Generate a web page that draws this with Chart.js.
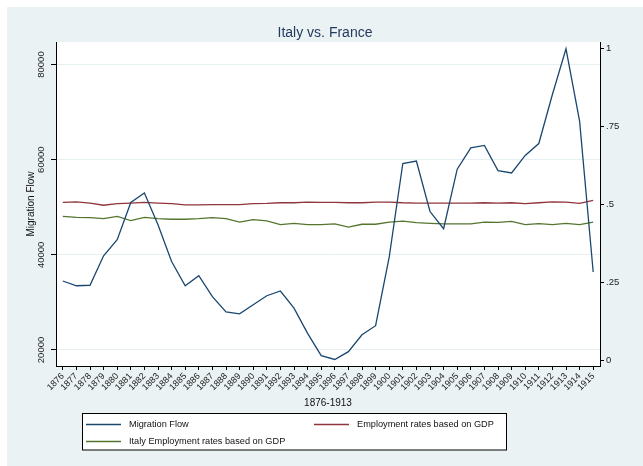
<!DOCTYPE html>
<html lang="en">
<head>
    <meta charset="UTF-8">
    <title>Italy vs. France</title>
    <script src="https://cdn.jsdelivr.net/npm/chart.js"></script>
    <style>
        html, body { margin: 0; padding: 0; background: #fff; }
        canvas { display: block; }
    </style>
</head>
<body>
    <canvas id="Chart" width="643" height="466"></canvas>
    <script>
        const years = [1876, 1877, 1878, 1879, 1880, 1881, 1882, 1883, 1884, 1885,
                       1886, 1887, 1888, 1889, 1890, 1891, 1892, 1893, 1894, 1895,
                       1896, 1897, 1898, 1899, 1900, 1901, 1902, 1903, 1904, 1905,
                       1906, 1907, 1908, 1909, 1910, 1911, 1912, 1913, 1914, 1915];

        const migrationFlow = [34500, 33500, 33600, 39800, 43200, 51000, 53000, 46300, 38600, 33500,
                               35600, 31200, 28000, 27600, 29500, 31400, 32400, 28800, 23500, 18800,
                               18000, 19650, 23200, 25100, 39500, 59200, 59700, 49100, 45500, 58000,
                               62500, 63000, 57700, 57200, 60900, 63400, 73700, 83300, 68100, 36400];

        const employmentRates = [.506, .508, .504, .497, .502, .504, .506, .504, .502, .498,
                                 .498, .499, .499, .499, .502, .503, .505, .505, .507, .506,
                                 .506, .505, .505, .507, .507, .505, .504, .504, .504, .504,
                                 .504, .505, .504, .505, .502, .505, .508, .507, .503, .513];

        const italyEmploymentRates = [.461, .458, .457, .454, .461, .448, .458, .454, .452, .452,
                                      .454, .457, .454, .443, .451, .447, .435, .439, .435, .435,
                                      .437, .427, .436, .436, .443, .446, .441, .439, .437, .437,
                                      .437, .443, .442, .445, .435, .438, .435, .439, .435, .443];

        const leftTicks = [20000, 40000, 60000, 80000];
        const rightTicks = [0, .25, .5, .75, 1];

        const FONT = 'Liberation Sans, Arial, Helvetica, sans-serif';
        const BG = '#eaf2f3';

        // stata-ish frame: grey background, white plot region
        const backdrop = {
            id: 'backdrop',
            beforeDraw(chart) {
                const { ctx, chartArea: a } = chart;
                ctx.save();
                ctx.fillStyle = '#ffffff';
                ctx.fillRect(0, 0, chart.width, chart.height);
                ctx.fillStyle = BG;
                ctx.fillRect(7, 7, chart.width - 7, chart.height - 7);
                ctx.fillStyle = '#ffffff';
                ctx.fillRect(a.left, a.top, a.right - a.left, a.bottom - a.top);
                ctx.restore();
            }
        };

        // left axis labels are vertical, chart.js won't rotate y tick labels
        const leftLabels = {
            id: 'leftLabels',
            afterDraw(chart) {
                const { ctx } = chart;
                const s = chart.scales.y;
                ctx.save();
                ctx.font = '9.5px ' + FONT;
                ctx.fillStyle = '#222';
                ctx.textAlign = 'center';
                ctx.textBaseline = 'middle';
                s.ticks.forEach(t => {
                    const py = s.getPixelForValue(t.value);
                    ctx.save();
                    ctx.translate(s.right - 15, py);
                    ctx.rotate(-Math.PI / 2);
                    ctx.fillText(String(t.value), 0, 0);
                    ctx.restore();
                });
                ctx.restore();
            }
        };

        // boxed legend, two columns
        const boxLegend = {
            id: 'boxLegend',
            afterDraw(chart) {
                const { ctx } = chart;
                const slots = [[86, 424], [314, 424], [86, 441]];
                ctx.save();
                ctx.fillStyle = '#ffffff';
                ctx.fillRect(82.5, 413.5, 424, 36.5);
                ctx.strokeStyle = '#000';
                ctx.lineWidth = 1;
                ctx.strokeRect(82.5, 413.5, 424, 36.5);
                ctx.font = '9.2px ' + FONT;
                ctx.textBaseline = 'middle';
                ctx.textAlign = 'left';
                chart.data.datasets.forEach((ds, i) => {
                    const [x, y] = slots[i];
                    ctx.strokeStyle = ds.borderColor;
                    ctx.lineWidth = 1.3;
                    ctx.beginPath();
                    ctx.moveTo(x, y + 0.5);
                    ctx.lineTo(x + 35, y + 0.5);
                    ctx.stroke();
                    ctx.fillStyle = '#111';
                    ctx.fillText(ds.label, x + 43, y);
                });
                ctx.restore();
            }
        };

        window.onload = function() {
            const ctx = document.getElementById('Chart').getContext('2d');
            new Chart(ctx, {
                type: 'line',
                data: {
                    labels: years,
                    datasets: [
                        {
                            label: 'Migration Flow',
                            borderColor: '#1a476f',
                            borderWidth: 1.3,
                            pointRadius: 0,
                            fill: false,
                            yAxisID: 'y',
                            data: migrationFlow
                        },
                        {
                            label: 'Employment rates based on GDP',
                            borderColor: '#90353b',
                            borderWidth: 1.3,
                            pointRadius: 0,
                            fill: false,
                            yAxisID: 'y1',
                            data: employmentRates
                        },
                        {
                            label: 'Italy Employment rates based on GDP',
                            borderColor: '#55752f',
                            borderWidth: 1.3,
                            pointRadius: 0,
                            fill: false,
                            yAxisID: 'y1',
                            data: italyEmploymentRates
                        }
                    ]
                },
                options: {
                    responsive: false,
                    animation: false,
                    devicePixelRatio: 1,
                    layout: { padding: { left: 7, top: 7, right: 0, bottom: 0 } },
                    plugins: {
                        legend: { display: false },
                        tooltip: { enabled: false },
                        title: {
                            display: true,
                            text: 'Italy vs. France',
                            color: '#243a5e',
                            font: { family: FONT, size: 14, weight: 'normal' },
                            padding: { top: 17.6, bottom: 0.6 }
                        }
                    },
                    scales: {
                        x: {
                            type: 'category',
                            offset: true,
                            grid: { drawOnChartArea: false, offset: false, tickLength: 4, tickColor: '#000' },
                            border: { color: '#000', width: 1 },
                            ticks: {
                                autoSkip: false, minRotation: 45, maxRotation: 45,
                                padding: 1, color: '#222',
                                font: { family: FONT, size: 9 }
                            },
                            title: {
                                display: true, text: '1876-1913', color: '#111',
                                font: { family: FONT, size: 10 },
                                padding: { top: 0, bottom: 57 }
                            },
                            afterFit: s => { s.height = 100; }
                        },
                        y: {
                            position: 'left',
                            min: 16630,
                            max: 84740,
                            afterBuildTicks: s => { s.ticks = leftTicks.map(v => ({ value: v })); },
                            grid: { color: '#e6eff1', tickLength: 5, tickColor: '#000' },
                            border: { color: '#000', width: 1 },
                            ticks: { color: 'rgba(0,0,0,0)', font: { family: FONT, size: 9.5 } },
                            title: {
                                display: true, text: 'Migration Flow', color: '#111',
                                font: { family: FONT, size: 10 },
                                padding: { top: 18, bottom: 0 }
                            },
                            afterFit: s => { s.width = 49; }
                        },
                        y1: {
                            position: 'right',
                            min: -0.019,
                            max: 1.021,
                            afterBuildTicks: s => { s.ticks = rightTicks.map(v => ({ value: v })); },
                            grid: { drawOnChartArea: false, tickLength: 4, tickColor: '#000' },
                            border: { color: '#000', width: 1 },
                            ticks: {
                                padding: 2, color: '#222',
                                font: { family: FONT, size: 9.5 },
                                callback: v => String(v).replace(/^0\./, '.')
                            },
                            afterFit: s => { s.width = 43; }
                        }
                    }
                },
                plugins: [backdrop, leftLabels, boxLegend]
            });
        };
    </script>
</body>
</html>
